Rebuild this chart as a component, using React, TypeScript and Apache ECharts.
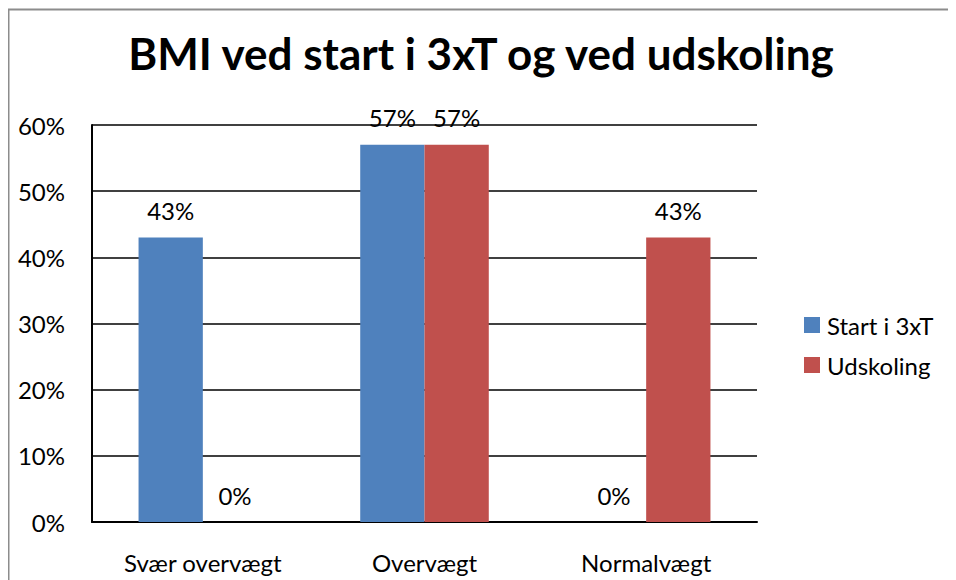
import React, { useEffect, useRef } from "react";
import * as echarts from "echarts";

const categories = ["Svær overvægt", "Overvægt", "Normalvægt"];
const startValues = [43, 57, 0];
const udskolingValues = [0, 57, 43];
const seriesNames = ["Start i 3xT", "Udskoling"];
const titleText = "BMI ved start i 3xT og ved udskoling";

const FONT = "Lato, 'Open Sans', sans-serif";

export default function App() {
  const ref = useRef<HTMLDivElement>(null);
  useEffect(() => {
    if (!ref.current) return;
    const chart = echarts.init(ref.current, undefined, { renderer: "svg" });
    const label = {
      show: true,
      position: "top",
      distance: 15,
      formatter: (p: any) => p.value + "%",
      color: "#000",
      fontSize: 24,
      fontFamily: FONT,
    };
    chart.setOption({
      animation: false,
      backgroundColor: "#fff",
      title: {
        text: titleText,
        left: 468,
        top: 18,
        textAlign: "center",
        textStyle: { fontSize: 44, fontWeight: "bold", color: "#000", fontFamily: FONT },
      },
      legend: {
        orient: "vertical",
        left: 796,
        top: 305,
        padding: 0,
        itemWidth: 16,
        itemHeight: 16,
        itemGap: 16,
        icon: "rect",
        textStyle: { fontSize: 24, color: "#000", fontFamily: FONT, padding: [0, 0, 0, 2] },
        data: seriesNames,
      },
      graphic: [
        {
          type: "rect",
          shape: { x: 0.5, y: 1.5, width: 2000, height: 2000 },
          style: { fill: "none", stroke: "#8c8c8c", lineWidth: 2 },
          silent: true,
        },
      ],
      grid: { left: 84, right: 199, top: 117, bottom: 58, containLabel: false },
      xAxis: {
        type: "category",
        data: categories,
        axisLine: { lineStyle: { color: "#000", width: 2 } },
        axisTick: { show: false },
        axisLabel: { color: "#000", fontSize: 24, fontFamily: FONT, margin: 28 },
      },
      yAxis: {
        type: "value",
        min: 0,
        max: 60,
        interval: 10,
        axisLine: { show: true, lineStyle: { color: "#000", width: 2 } },
        axisTick: { show: false },
        splitLine: { lineStyle: { color: "#000", width: 1.5 } },
        axisLabel: {
          color: "#000",
          fontSize: 24,
          fontFamily: FONT,
          margin: 27,
          padding: [8, 0, 0, 0],
          formatter: (v: number) => v + "%",
        },
      },
      series: [
        {
          name: seriesNames[0],
          type: "bar",
          data: startValues,
          itemStyle: { color: "#4F81BD" },
          barGap: "0%",
          barCategoryGap: "42%",
          label,
        },
        {
          name: seriesNames[1],
          type: "bar",
          data: udskolingValues,
          itemStyle: { color: "#C0504D" },
          barGap: "0%",
          barCategoryGap: "42%",
          label,
        },
      ],
    });
    return () => chart.dispose();
  }, []);
  return <div ref={ref} style={{ width: 948, height: 572 }} />;
}
